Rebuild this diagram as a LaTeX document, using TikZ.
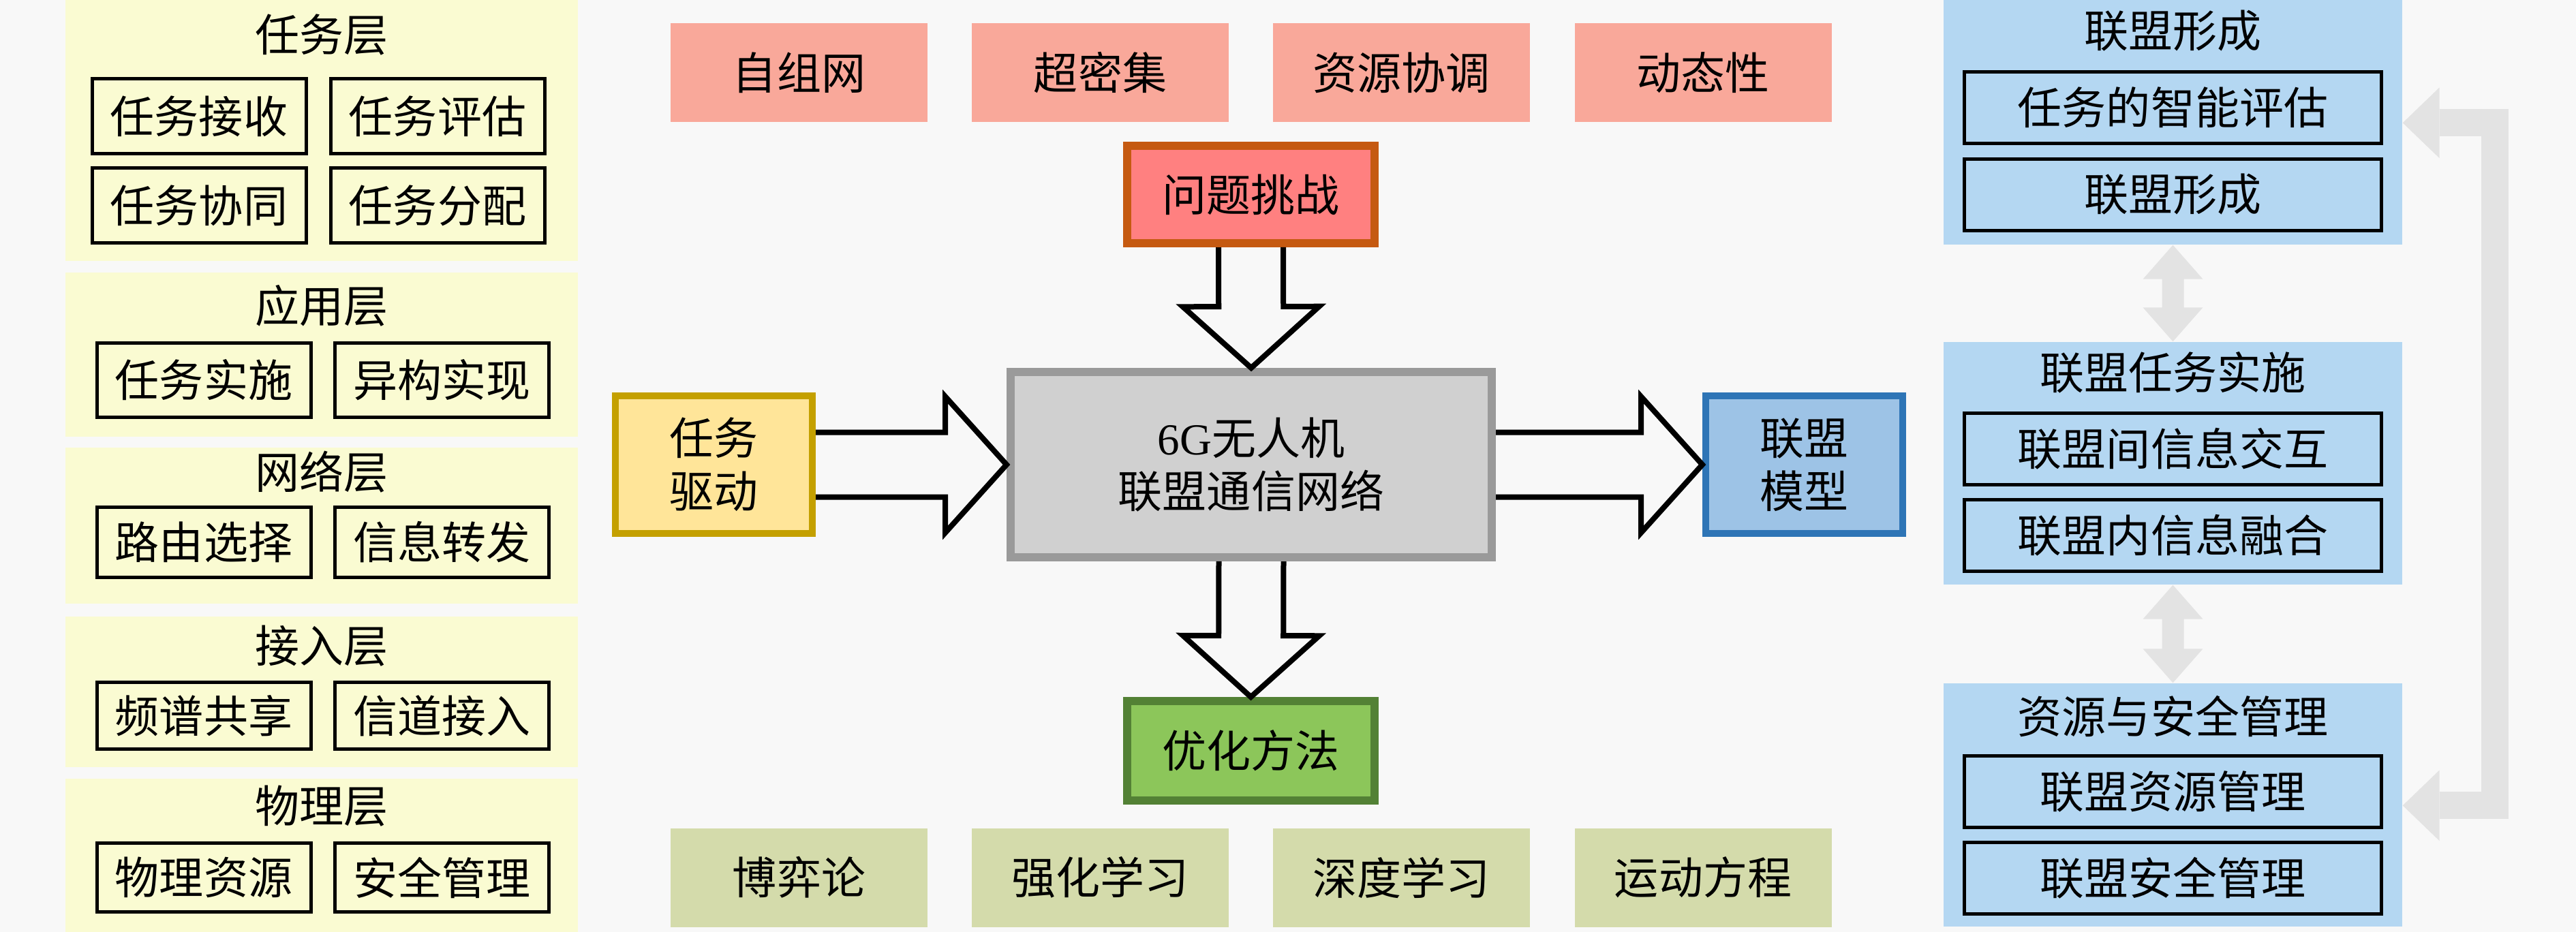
\documentclass[tikz,border=0pt]{standalone}
\usepackage{fontspec}
\setmainfont{Liberation Serif}
\newfontfamily\cjk{Noto Sans CJK SC}
\usepackage{tikz}
\usetikzlibrary{calc,arrows.meta}

\definecolor{bg}{RGB}{248,248,248}
\definecolor{layerbg}{RGB}{250,251,210}
\definecolor{tagred}{RGB}{249,168,154}
\definecolor{tagolive}{RGB}{212,219,171}
\definecolor{probfill}{RGB}{255,128,128}
\definecolor{probline}{RGB}{197,90,17}
\definecolor{corefill}{RGB}{208,208,208}
\definecolor{coreline}{RGB}{154,154,154}
\definecolor{optfill}{RGB}{140,198,90}
\definecolor{optline}{RGB}{83,129,53}
\definecolor{drivefill}{RGB}{255,229,153}
\definecolor{driveline}{RGB}{196,160,0}
\definecolor{modelfill}{RGB}{157,195,230}
\definecolor{modelline}{RGB}{46,117,182}
\definecolor{allyfill}{RGB}{180,215,242}
\definecolor{arrowgray}{RGB}{227,227,227}

\tikzset{
  txt/.style={font=\cjk\fontsize{18.5}{22.2}\selectfont, inner sep=0pt, align=center},
  layer/.style={fill=layerbg, minimum width=7.52cm},
  item/.style={txt, draw=black, line width=.05cm, minimum width=3.14cm},
  tag/.style={txt, minimum width=3.77cm, minimum height=1.45cm},
  ally/.style={fill=allyfill, minimum width=6.73cm},
  allyitem/.style={txt, draw=black, fill=allyfill, line width=.05cm, minimum width=6.12cm, minimum height=1.05cm},
  hollow/.style={draw=black, line width=.08cm, line join=miter,
    to path={
      ($(\tikztostart)!.475cm!90:(\tikztotarget)$)
      -- ($($(\tikztotarget)!.9cm!(\tikztostart)$)!.475cm!-90:(\tikztostart)$)
      -- ($($(\tikztotarget)!.9cm!(\tikztostart)$)!1cm!-90:(\tikztostart)$)
      -- (\tikztotarget)
      -- ($($(\tikztotarget)!.9cm!(\tikztostart)$)!1cm!90:(\tikztostart)$)
      -- ($($(\tikztotarget)!.9cm!(\tikztostart)$)!.475cm!90:(\tikztostart)$)
      -- ($(\tikztostart)!.475cm!-90:(\tikztotarget)$)}},
  bothway/.style={fill=arrowgray,
    to path={
      (\tikztostart)
      -- ($($(\tikztostart)!.5cm!(\tikztotarget)$)!.44cm!90:(\tikztotarget)$)
      -- ($($(\tikztostart)!.5cm!(\tikztotarget)$)!.16cm!90:(\tikztotarget)$)
      -- ($($(\tikztotarget)!.5cm!(\tikztostart)$)!.16cm!-90:(\tikztostart)$)
      -- ($($(\tikztotarget)!.5cm!(\tikztostart)$)!.44cm!-90:(\tikztostart)$)
      -- (\tikztotarget)
      -- ($($(\tikztotarget)!.5cm!(\tikztostart)$)!.44cm!90:(\tikztostart)$)
      -- ($($(\tikztotarget)!.5cm!(\tikztostart)$)!.16cm!90:(\tikztostart)$)
      -- ($($(\tikztostart)!.5cm!(\tikztotarget)$)!.16cm!-90:(\tikztotarget)$)
      -- ($($(\tikztostart)!.5cm!(\tikztotarget)$)!.44cm!-90:(\tikztotarget)$)
      -- cycle}},
  loopback/.style={draw=arrowgray, line width=.4cm, line join=miter,
    {Triangle[width=1.04cm,length=.54cm,line width=0pt]}-{Triangle[width=1.04cm,length=.54cm,line width=0pt]}}
}

\begin{document}
\begin{tikzpicture}

\useasboundingbox (0,0) rectangle (37.8,-13.68);
\fill [bg] (0,0) rectangle (37.8,-13.68);

% left: layers
\node [layer, minimum height=3.83cm] (tasklayer) at (4.72,-1.915) {};
\node [txt] (tasktitle) at (4.72,-0.51) {任务层};
\node [item, minimum height=1.1cm] (recv) at (2.92,-1.705) {任务接收};
\node [item, minimum height=1.1cm] (eval) at (6.42,-1.705) {任务评估};
\node [item, minimum height=1.1cm] (coop) at (2.92,-3.015) {任务协同};
\node [item, minimum height=1.1cm] (assign) at (6.42,-3.015) {任务分配};

\node [layer, minimum height=2.41cm] (applayer) at (4.72,-5.205) {};
\node [txt] (apptitle) at (4.72,-4.49) {应用层};
\node [item, minimum height=1.09cm] (impl) at (2.99,-5.58) {任务实施};
\node [item, minimum height=1.09cm] (hetero) at (6.485,-5.58) {异构实现};

\node [layer, minimum height=2.29cm] (netlayer) at (4.72,-7.715) {};
\node [txt] (nettitle) at (4.72,-6.93) {网络层};
\node [item, minimum height=1.03cm] (route) at (2.99,-7.96) {路由选择};
\node [item, minimum height=1.03cm] (forward) at (6.485,-7.96) {信息转发};

\node [layer, minimum height=2.21cm] (acclayer) at (4.72,-10.155) {};
\node [txt] (acctitle) at (4.72,-9.48) {接入层};
\node [item, minimum height=.98cm] (spectrum) at (2.99,-10.505) {频谱共享};
\node [item, minimum height=.98cm] (channel) at (6.485,-10.505) {信道接入};

\node [layer, minimum height=2.25cm] (phylayer) at (4.72,-12.555) {};
\node [txt] (phytitle) at (4.72,-11.83) {物理层};
\node [item, minimum height=1.01cm] (physres) at (2.99,-12.88) {物理资源};
\node [item, minimum height=1.01cm] (secure) at (6.485,-12.88) {安全管理};

% middle
\node [tag, fill=tagred] (adhoc) at (11.725,-1.0675) {自组网};
\node [tag, fill=tagred] (dense) at (16.145,-1.0675) {超密集};
\node [tag, fill=tagred] (coord) at (20.565,-1.0675) {资源协调};
\node [tag, fill=tagred] (dynamic) at (24.99,-1.0675) {动态性};

\node [tag, fill=tagolive] (game) at (11.725,-12.88) {博弈论};
\node [tag, fill=tagolive] (rl) at (16.145,-12.88) {强化学习};
\node [tag, fill=tagolive] (dl) at (20.565,-12.88) {深度学习};
\node [tag, fill=tagolive] (motion) at (24.99,-12.88) {运动方程};

\node [txt, draw=probline, fill=probfill, line width=.12cm, minimum width=3.63cm, minimum height=1.43cm] (prob) at (18.355,-2.855) {问题挑战};
\node [txt, draw=coreline, fill=corefill, line width=.12cm, minimum width=7.06cm, minimum height=2.72cm] (core) at (18.36,-6.82) {{\rmfamily 6G}无人机\\联盟通信网络};
\node [txt, draw=optline, fill=optfill, line width=.12cm, minimum width=3.63cm, minimum height=1.46cm] (opt) at (18.355,-11.02) {优化方法};
\node [txt, draw=driveline, fill=drivefill, line width=.1cm, minimum width=2.89cm, minimum height=2.02cm] (drive) at (10.475,-6.82) {任务\\驱动};
\node [txt, draw=modelline, fill=modelfill, line width=.1cm, minimum width=2.89cm, minimum height=2.02cm] (model) at (26.475,-6.82) {联盟\\模型};

\draw [hollow] (prob.south) to (core.north);
\draw [hollow] (core.south) to (opt.north);
\draw [hollow] (drive.east) to (core.west);
\draw [hollow] (core.east) to (model.west);

% right: alliance
\node [ally, minimum height=3.59cm] (form) at (31.885,-1.795) {};
\node [txt] (formtitle) at (31.885,-.45) {联盟形成};
\node [allyitem] (smart) at (31.885,-1.58) {任务的智能评估};
\node [allyitem] (build) at (31.885,-2.855) {联盟形成};

\node [ally, minimum height=3.56cm] (exec) at (31.885,-6.8) {};
\node [txt] (exectitle) at (31.885,-5.47) {联盟任务实施};
\node [allyitem] (inter) at (31.885,-6.585) {联盟间信息交互};
\node [allyitem] (intra) at (31.885,-7.86) {联盟内信息融合};

\node [ally, minimum height=3.57cm] (manage) at (31.885,-11.815) {};
\node [txt] (managetitle) at (31.885,-10.51) {资源与安全管理};
\node [allyitem] (resmgr) at (31.885,-11.62) {联盟资源管理};
\node [allyitem] (secmgr) at (31.885,-12.89) {联盟安全管理};

\path [bothway] (form.south) to (exec.north);
\path [bothway] (exec.south) to (manage.north);

\draw [loopback] ([yshift=-1.81cm]form.north east) -- ++(1.35,0) |- ([yshift=-1.8cm]manage.north east);

\end{tikzpicture}
\end{document}
